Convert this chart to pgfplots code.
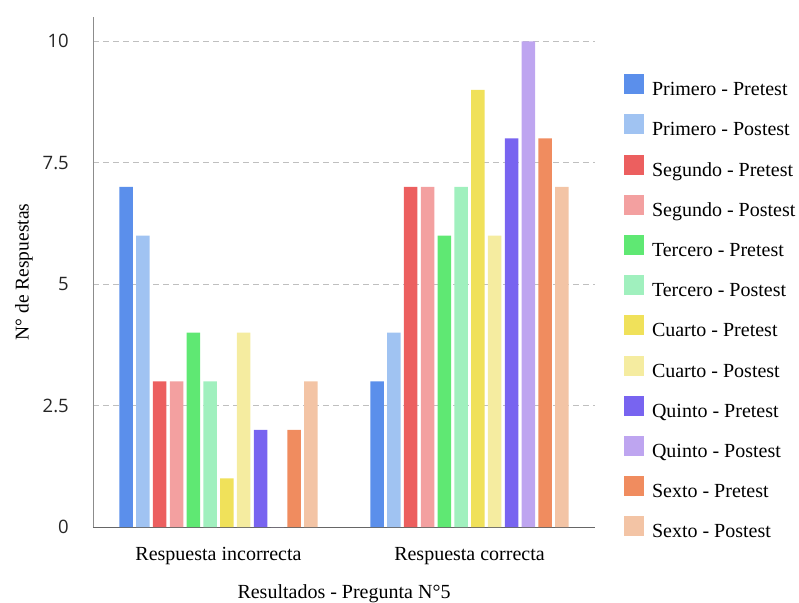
\documentclass[border=0pt]{standalone}
\usepackage{pgfplots}
\pgfplotsset{compat=1.18}
\usepackage{fontspec}
\setmainfont{Liberation Serif}
\newfontfamily\ticksfont{Open Sans}
\definecolor{c1}{RGB}{91,143,235}
\definecolor{c2}{RGB}{160,195,242}
\definecolor{c3}{RGB}{236,95,95}
\definecolor{c4}{RGB}{243,160,160}
\definecolor{c5}{RGB}{95,232,115}
\definecolor{c6}{RGB}{160,240,190}
\definecolor{c7}{RGB}{240,225,90}
\definecolor{c8}{RGB}{245,236,160}
\definecolor{c9}{RGB}{120,100,240}
\definecolor{c10}{RGB}{190,165,240}
\definecolor{c11}{RGB}{240,140,95}
\definecolor{c12}{RGB}{243,196,165}
\begin{document}
\begin{tikzpicture}
\path[use as bounding box] (0,0) rectangle (799pt,602pt);
\begin{axis}[
  at={(93pt,75pt)}, anchor=south west,
  scale only axis, width=502pt, height=510pt,
  xmin=-0.5, xmax=1.5, ymin=0, ymax=10.5,
  enlargelimits=false,
  axis lines*=left,
  x axis line style={draw=black!60, line width=1pt},
  y axis line style={draw=black!45, line width=0.8pt},
  ybar=3.3pt, bar width=13.5pt,
  xtick={0,1}, xticklabels={Respuesta incorrecta, Respuesta correcta},
  ytick={0,2.5,5,7.5,10}, yticklabels={0,2.5,5,7.5,10},
  major tick length=0pt,
  ymajorgrids, grid style={draw=black!25, dash pattern=on 6pt off 4pt, line width=0.8pt},
  yticklabel style={font=\ticksfont\fontsize{18.5}{22}\selectfont, text=black!85, inner sep=0pt, anchor=east, xshift=-24pt},
  xticklabel style={font=\fontsize{20}{24}\selectfont, inner sep=0pt, anchor=north, yshift=-20pt},
  xlabel={Resultados - Pregunta N°5},
  ylabel={N° de Respuestas},
  every axis x label/.style={at={(axis description cs:0.5,0)}, anchor=north, yshift=-57pt, inner sep=0pt, font=\fontsize{20}{24}\selectfont},
  every axis y label/.style={at={(axis description cs:-0.1375,0.5)}, anchor=center, rotate=90, inner sep=0pt, font=\fontsize{19.5}{24}\selectfont},
  legend image code/.code={\fill[#1] (0pt,-3pt) rectangle (20pt,17pt);},
  legend cell align=left,
  legend style={at={(axis description cs:1.0578,0.888)}, anchor=north west, draw=none, fill=none,
    inner sep=0pt, outer sep=0pt, column sep=8pt, row sep=13.7pt,
    font=\fontsize{20}{24}\selectfont,
    nodes={inner sep=0pt, text height=14pt, text depth=5pt}},
]
\addplot[fill=c1, draw=none] coordinates {(0,7) (1,3)};
\addplot[fill=c2, draw=none] coordinates {(0,6) (1,4)};
\addplot[fill=c3, draw=none] coordinates {(0,3) (1,7)};
\addplot[fill=c4, draw=none] coordinates {(0,3) (1,7)};
\addplot[fill=c5, draw=none] coordinates {(0,4) (1,6)};
\addplot[fill=c6, draw=none] coordinates {(0,3) (1,7)};
\addplot[fill=c7, draw=none] coordinates {(0,1) (1,9)};
\addplot[fill=c8, draw=none] coordinates {(0,4) (1,6)};
\addplot[fill=c9, draw=none] coordinates {(0,2) (1,8)};
\addplot[fill=c10, draw=none] coordinates {(0,0) (1,10)};
\addplot[fill=c11, draw=none] coordinates {(0,2) (1,8)};
\addplot[fill=c12, draw=none] coordinates {(0,3) (1,7)};
\legend{Primero - Pretest, Primero - Postest, Segundo - Pretest, Segundo - Postest, Tercero - Pretest, Tercero - Postest, Cuarto - Pretest, Cuarto - Postest, Quinto - Pretest, Quinto - Postest, Sexto - Pretest, Sexto - Postest}
\end{axis}
\end{tikzpicture}
\end{document}
